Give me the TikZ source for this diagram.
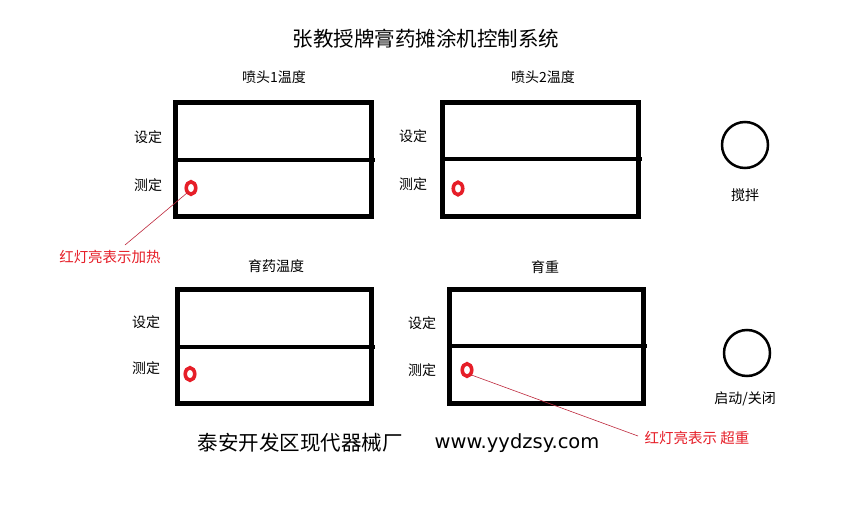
\documentclass[tikz,border=0pt]{standalone}
\usepackage{fontspec}
\usetikzlibrary{shapes.geometric}
\setmainfont{Noto Sans CJK SC}
\newfontfamily\latinf{DejaVu Sans}
\definecolor{ledred}{RGB}{230,30,40}
\definecolor{linered}{RGB}{190,40,60}
\begin{document}
\begin{tikzpicture}[x=1pt,y=-1pt,
  panel/.style={draw=black,line width=5pt},
  divider/.style={draw=black,line width=4pt},
  led/.style={draw=ledred,line width=3.6pt,ellipse,minimum width=9.5pt,minimum height=12.5pt,inner sep=0pt},
  knob/.style={draw=black,line width=2.5pt,circle,minimum size=46pt,inner sep=0pt},
  lbl/.style={font=\fontsize{14}{16}\selectfont,inner sep=0pt},
  redlbl/.style={font=\fontsize{14.5}{16}\selectfont,text=ledred,inner sep=0pt},
  pointer/.style={draw=linered,line width=0.6pt},
  big/.style={font=\fontsize{20.5}{24}\selectfont,inner sep=0pt}]
\useasboundingbox (0,0) rectangle (852,506);
\fill[white] (0,0) rectangle (852,506);

\node[big] (title) at (426,39) {张教授牌膏药摊涂机控制系统};

% panel 1
\draw[panel] (175.5,102.5) rectangle (371.5,216.5);
\draw[divider] (175.5,160) -- (375,160);
\node[lbl] (t1) at (274,77) {喷头1温度};
\node[lbl] (s1) at (148,137) {设定};
\node[lbl] (m1) at (148,185) {测定};
\node[led] (l1) at (191,188) {};

% panel 2
\draw[panel] (442.5,102.5) rectangle (638.5,216.5);
\draw[divider] (442.5,159) -- (642,159);
\node[lbl] (t2) at (543,77) {喷头2温度};
\node[lbl] (s2) at (413,136) {设定};
\node[lbl] (m2) at (413,184) {测定};
\node[led] (l2) at (458,188.5) {};

% panel 3
\draw[panel] (177.5,289.5) rectangle (371.5,403.5);
\draw[divider] (177.5,347) -- (375,347);
\node[lbl] (t3) at (276,266) {育药温度};
\node[lbl] (s3) at (146,322) {设定};
\node[lbl] (m3) at (146,368) {测定};
\node[led] (l3) at (190,374) {};

% panel 4
\draw[panel] (449.5,289.5) rectangle (643.5,403.5);
\draw[divider] (449.5,346) -- (647,346);
\node[lbl] (t4) at (545,267) {育重};
\node[lbl] (s4) at (422,323) {设定};
\node[lbl] (m4) at (422,370) {测定};
\node[led] (l4) at (467,370) {};

% knobs
\node[knob] (k1) at (745,145) {};
\node[lbl] (k1l) at (745,195) {搅拌};
\node[knob] (k2) at (747,353) {};
\node[lbl] (k2l) at (745,399) {启动/关闭};

% red pointers
\node[redlbl] (r1) at (110,257) {红灯亮表示加热};
\coordinate (r1e) at (125,245);
\draw[pointer] (l1.south west) ++(1,-1) -- (r1e);
\node[redlbl] (r2) at (697,438) {红灯亮表示 超重};
\coordinate (r2e) at (638,436);
\draw[pointer] (l4.south east) ++(-1,-1) -- (r2e);

% footer
\node[big,font=\fontsize{20.5}{24}\selectfont] (foot) at (300,443) {泰安开发区现代器械厂};
\node[big,font=\latinf\fontsize{19.5}{24}\selectfont] (url) at (517,443) {www.yydzsy.com};
\end{tikzpicture}
\end{document}
